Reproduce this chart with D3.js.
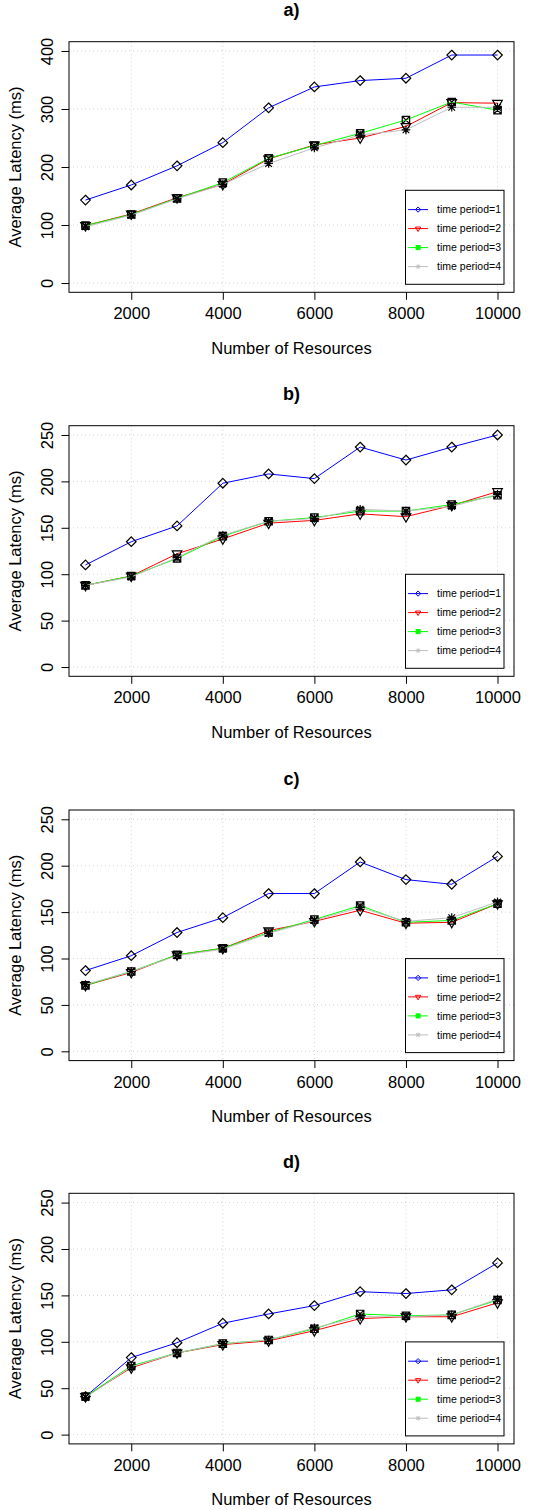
<!DOCTYPE html>
<html>
<head>
<meta charset="utf-8">
<script src="https://cdn.jsdelivr.net/npm/d3@7"></script>
<style>
  body { margin: 0; background: #fff; }
  svg { display: block; font-family: "Liberation Sans", Arial, Helvetica, sans-serif; }
</style>
</head>
<body>
<script>
// x values (number of resources)
const resources = [1000, 2000, 3000, 4000, 5000, 6000, 7000, 8000, 9000, 10000];
const xTicks = [2000, 4000, 6000, 8000, 10000];

const panelTitles = ["a)", "b)", "c)", "d)"];
const yMaxes = [400, 250, 250, 250];
const yTicksA = [0, 100, 200, 300, 400];
const yTicksRest = [0, 50, 100, 150, 200, 250];

const seriesNames = ["time period=1", "time period=2", "time period=3", "time period=4"];
const seriesColors = ["#0000ff", "#ff0000", "#00ff00", "#bebebe"];

// panel a)
const latA1 = [143, 169, 202, 242, 302, 338, 349, 353, 393, 393];
const latA2 = [99, 119, 147, 170, 214, 238, 250, 270, 311, 310];
const latA3 = [99, 118, 146, 173, 215, 237, 258, 281, 312, 298];
const latA4 = [97, 117, 145, 170, 206, 233, 255, 264, 303, 303];
// panel b)
const latB1 = [110, 135, 152, 198, 208, 203, 237, 223, 237, 250];
const latB2 = [88, 98, 122, 138, 155, 158, 165, 162, 174, 189];
const latB3 = [88, 98, 117, 141, 157, 161, 168, 168, 175, 185];
const latB4 = [88, 97, 118, 142, 157, 160, 170, 168, 173, 186];
// panel c)
const latC1 = [87, 103, 128, 144, 170, 170, 204, 185, 180, 210];
const latC2 = [71, 85, 104, 111, 130, 140, 152, 138, 139, 159];
const latC3 = [71, 86, 104, 111, 128, 142, 157, 139, 141, 159];
const latC4 = [72, 86, 103, 110, 127, 141, 155, 140, 144, 161];
// panel d)
const latD1 = [41, 83, 99, 120, 130, 139, 154, 152, 156, 185];
const latD2 = [41, 72, 88, 97, 101, 112, 125, 127, 127, 142];
const latD3 = [41, 74, 88, 98, 102, 114, 130, 128, 129, 145];
const latD4 = [40, 73, 88, 98, 102, 115, 127, 127, 129, 146];

const panels = [
  [latA1, latA2, latA3, latA4],
  [latB1, latB2, latB3, latB4],
  [latC1, latC2, latC3, latC4],
  [latD1, latD2, latD3, latD4]
];

const W = 543, H = 1510;
const boxLeft = 69, boxRight = 514;
const boxTops = [41.7, 425.7, 810, 1193.3];
const boxH = 250.6;
const fontSize = 16.5;

const svg = d3.select("body").append("svg")
  .attr("width", W)
  .attr("height", H);

svg.append("rect").attr("width", W).attr("height", H).attr("fill", "#fff");

// marker shapes (R pch 5,6,7,8)
function markerPath(k, s) {
  if (k === 0) {
    const r = 4.8 * s;
    return `M0,${-r}L${r},0L0,${r}L${-r},0Z`;
  }
  if (k === 1) {
    const w = 4.8 * s, t = 2.9 * s, b = 5.4 * s;
    return `M${-w},${-t}L${w},${-t}L0,${b}Z`;
  }
  if (k === 2) {
    const a = 3.7 * s;
    return `M${-a},${-a}H${a}V${a}H${-a}Z M${-a},${-a}L${a},${a} M${a},${-a}L${-a},${a}`;
  }
  const p = 4.3 * s, q = 3.3 * s;
  return `M${-p},0H${p} M0,${-p}V${p} M${-q},${-q}L${q},${q} M${q},${-q}L${-q},${q}`;
}

const x = d3.scaleLinear().domain([640, 10360]).range([boxLeft, boxRight]);

panels.forEach(function(series, i) {
  const top = boxTops[i];
  const bottom = top + boxH;
  const yMax = yMaxes[i];
  const pad = yMax * 0.04;
  const y = d3.scaleLinear().domain([-pad, yMax + pad]).range([bottom, top]);
  const yTicks = i === 0 ? yTicksA : yTicksRest;
  const g = svg.append("g").attr("class", "panel");

  // grid
  g.selectAll("line.vgrid").data(xTicks).enter().append("line")
    .attr("x1", d => x(d)).attr("x2", d => x(d))
    .attr("y1", top).attr("y2", bottom)
    .attr("stroke", "#d3d3d3").attr("stroke-dasharray", "1,3");
  g.selectAll("line.hgrid").data(yTicks).enter().append("line")
    .attr("x1", boxLeft).attr("x2", boxRight)
    .attr("y1", d => y(d)).attr("y2", d => y(d))
    .attr("stroke", "#d3d3d3").attr("stroke-dasharray", "1,3");

  // axes
  const xAxis = g.append("g")
    .attr("transform", `translate(0,${bottom})`)
    .call(d3.axisBottom(x).tickValues(xTicks).tickSize(7.5).tickPadding(7.8).tickFormat(d3.format("d")));
  xAxis.select(".domain").remove();
  xAxis.selectAll("text").attr("font-size", fontSize).attr("font-family", null).attr("fill", "#000");
  xAxis.selectAll("line").attr("stroke", "#000");

  const yAxis = g.append("g")
    .attr("transform", `translate(${boxLeft},0)`)
    .call(d3.axisLeft(y).tickValues(yTicks).tickSize(7.5).tickFormat(d3.format("d")));
  yAxis.select(".domain").remove();
  yAxis.selectAll("line").attr("stroke", "#000");
  yAxis.selectAll("text")
    .attr("x", 0).attr("dy", null)
    .attr("text-anchor", "middle")
    .attr("transform", "translate(-16,0) rotate(-90)")
    .attr("font-size", fontSize).attr("font-family", null).attr("fill", "#000");

  // box
  g.append("rect")
    .attr("x", boxLeft).attr("y", top)
    .attr("width", boxRight - boxLeft).attr("height", boxH)
    .attr("fill", "none").attr("stroke", "#000").attr("stroke-width", 1);

  // titles
  g.append("text")
    .attr("x", (boxLeft + boxRight) / 2).attr("y", top - 25.5)
    .attr("text-anchor", "middle").attr("font-weight", "bold").attr("font-size", 18)
    .text(panelTitles[i]);
  g.append("text")
    .attr("x", (boxLeft + boxRight) / 2).attr("y", bottom + 61.5)
    .attr("text-anchor", "middle").attr("font-size", fontSize)
    .text("Number of Resources");
  g.append("text")
    .attr("transform", `translate(21,${(top + bottom) / 2}) rotate(-90)`)
    .attr("text-anchor", "middle").attr("font-size", fontSize)
    .text("Average Latency (ms)");

  // series
  const line = d3.line().x(d => x(d[0])).y(d => y(d[1]));
  series.forEach(function(vals, k) {
    const pts = resources.map((r, j) => [r, vals[j]]);
    g.append("path").datum(pts)
      .attr("d", line)
      .attr("fill", "none").attr("stroke", seriesColors[k]).attr("stroke-width", 1);
    g.selectAll(null).data(pts).enter().append("path")
      .attr("transform", d => `translate(${x(d[0])},${y(d[1])})`)
      .attr("d", markerPath(k, 1))
      .attr("fill", "none").attr("stroke", "#000").attr("stroke-width", 1.2);
  });

  // legend
  const lgW = 98.5, lgH = 94;
  const lgRight = boxRight - 10, lgBottom = bottom - 8;
  const lgLeft = lgRight - lgW, lgTop = lgBottom - lgH;
  const lg = g.append("g").attr("transform", `translate(${lgLeft},${lgTop})`);
  lg.append("rect").attr("width", lgW).attr("height", lgH)
    .attr("fill", "#fff").attr("stroke", "#000").attr("stroke-width", 1);
  seriesNames.forEach(function(name, k) {
    const ry = 19.3 + k * 19;
    lg.append("line").attr("x1", 2.6).attr("x2", 22.6).attr("y1", ry).attr("y2", ry)
      .attr("stroke", seriesColors[k]).attr("stroke-width", 1);
    lg.append("path").attr("transform", `translate(12.6,${ry})`)
      .attr("d", markerPath(k, 0.55))
      .attr("fill", k === 2 ? seriesColors[k] : "none")
      .attr("stroke", seriesColors[k]).attr("stroke-width", 1);
    lg.append("text").attr("x", 31.6).attr("y", ry).attr("dy", "0.35em")
      .attr("font-size", 10.5).attr("fill", "#000")
      .text(name);
  });
});
</script>
</body>
</html>
